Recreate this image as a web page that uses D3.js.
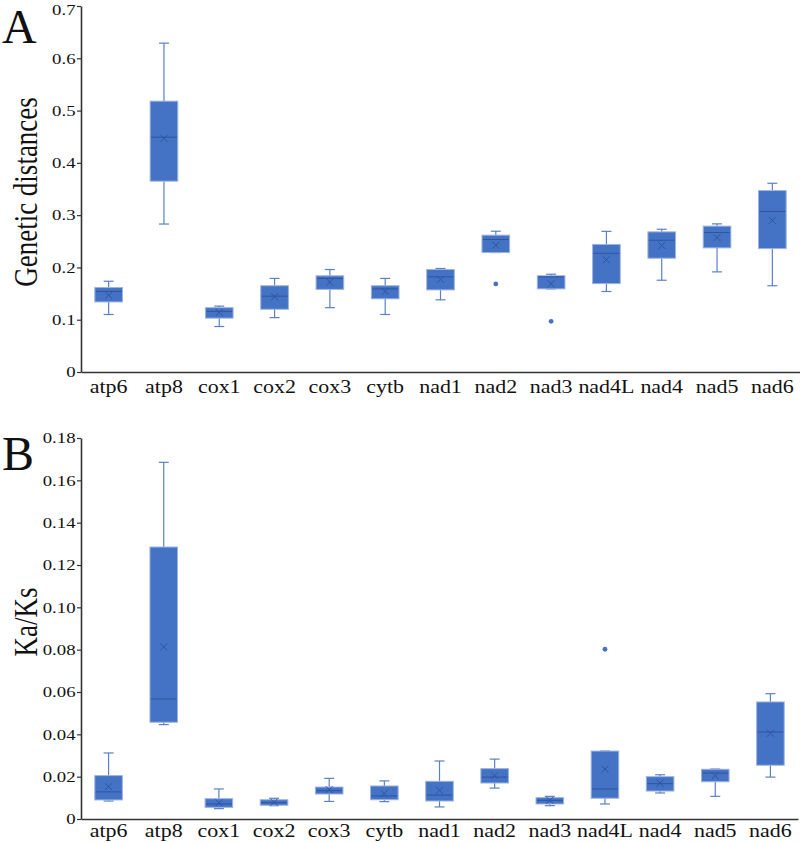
<!DOCTYPE html>
<html>
<head>
<meta charset="utf-8">
<script src="https://cdn.jsdelivr.net/npm/d3@7"></script>
<style>
  body { margin: 0; background: #fff; }
  text { font-family: "Liberation Serif", "Times New Roman", serif; fill: #111; }
</style>
</head>
<body>
<div id="chart"></div>
<script>
// genes on the x axis
var genes = ["atp6","atp8","cox1","cox2","cox3","cytb","nad1","nad2","nad3","nad4L","nad4","nad5","nad6"];

// panel A : genetic distances
var minA  = [0.110,0.283,0.087,0.104,0.123,0.110,0.138,0.2285,0.159,0.154,0.1755,0.1915,0.165];
var q1A   = [0.134,0.365,0.103,0.120,0.158,0.140,0.157,0.2285,0.159,0.169,0.2176,0.2374,0.236];
var medA  = [0.154,0.449,0.116,0.145,0.179,0.159,0.182,0.2534,0.182,0.227,0.252,0.2668,0.307];
var q3A   = [0.1615,0.518,0.123,0.165,0.184,0.165,0.196,0.2617,0.184,0.244,0.268,0.279,0.347];
var maxA  = [0.1736,0.629,0.126,0.179,0.196,0.179,0.198,0.2693,0.187,0.269,0.273,0.2833,0.361];
var meanA = [0.147,0.447,0.114,0.144,0.172,0.154,0.177,0.2425,0.169,0.215,0.242,0.257,0.290];
var outA  = [[],[],[],[],[],[],[],[0.1685],[0.097],[],[],[],[]];

// panel B : Ka/Ks
var minB  = [0.0085,0.0446,0.0049,0.0063,0.0083,0.0082,0.0057,0.0146,0.0063,0.0071,0.0123,0.0107,0.0198];
var q1B   = [0.0090,0.0457,0.0055,0.0065,0.0118,0.0091,0.0085,0.0170,0.0071,0.0098,0.0132,0.0176,0.0254];
var medB  = [0.0128,0.0567,0.0071,0.0077,0.0134,0.0109,0.0113,0.0198,0.0088,0.0142,0.0167,0.0217,0.0411];
var q3B   = [0.0205,0.1285,0.0096,0.0091,0.0151,0.0156,0.0178,0.0238,0.0101,0.0321,0.0200,0.0235,0.0553];
var maxB  = [0.0312,0.1685,0.0142,0.0098,0.0192,0.0180,0.0274,0.0283,0.0107,0.0321,0.0209,0.0236,0.0592];
var meanB = [0.0153,0.0813,0.0076,0.0079,0.0139,0.0120,0.0135,0.0205,0.0088,0.0236,0.0170,0.0205,0.0405];
var outB  = [[],[],[],[],[],[],[],[],[],[0.0802],[],[],[]];

var ticksA = [0,0.1,0.2,0.3,0.4,0.5,0.6,0.7];
var ticksB = [0,0.02,0.04,0.06,0.08,0.10,0.12,0.14,0.16,0.18];

var svg = d3.select("#chart").append("svg")
  .attr("width", 800)
  .attr("height", 843);

var boxFill = "#4472c4", boxStroke = "#9db4e0", whisk = "#5b80c8", inner = "#2f55a0";

function panel(opt) {
  var x = d3.scaleBand().domain(genes).range([81, opt.right]).paddingInner(0.5).paddingOuter(0.25);
  var y = d3.scaleLinear().domain([0, opt.max]).range([opt.bottom, opt.top]);
  var g = svg.append("g");

  var rows = genes.map(function(k, i) {
    return {gene: k, min: opt.min[i], q1: opt.q1[i], med: opt.med[i], q3: opt.q3[i],
            max: opt.max2[i], mean: opt.mean[i], out: opt.out[i]};
  });

  var bw = x.bandwidth(), cap = 10;
  var b = g.selectAll(".box").data(rows).enter().append("g")
    .attr("transform", function(d) { return "translate(" + (x(d.gene) + bw / 2) + ",0)"; });

  // whiskers
  b.append("line").attr("x1", 0).attr("x2", 0)
    .attr("y1", function(d) { return y(d.max); }).attr("y2", function(d) { return y(d.q3); })
    .attr("stroke", whisk).attr("stroke-width", 1.2);
  b.append("line").attr("x1", 0).attr("x2", 0)
    .attr("y1", function(d) { return y(d.q1); }).attr("y2", function(d) { return y(d.min); })
    .attr("stroke", whisk).attr("stroke-width", 1.2);
  b.append("line").attr("x1", -cap / 2).attr("x2", cap / 2)
    .attr("y1", function(d) { return y(d.max); }).attr("y2", function(d) { return y(d.max); })
    .attr("stroke", whisk).attr("stroke-width", 1.2);
  b.append("line").attr("x1", -cap / 2).attr("x2", cap / 2)
    .attr("y1", function(d) { return y(d.min); }).attr("y2", function(d) { return y(d.min); })
    .attr("stroke", whisk).attr("stroke-width", 1.2);

  // box
  b.append("rect")
    .attr("x", -bw / 2).attr("width", bw)
    .attr("y", function(d) { return y(d.q3); })
    .attr("height", function(d) { return Math.max(1, y(d.q1) - y(d.q3)); })
    .attr("fill", boxFill).attr("stroke", boxStroke).attr("stroke-width", 1);

  // median
  b.append("line").attr("x1", -bw / 2 + 1).attr("x2", bw / 2 - 1)
    .attr("y1", function(d) { return y(d.med); }).attr("y2", function(d) { return y(d.med); })
    .attr("stroke", inner).attr("stroke-width", 1);

  // mean marker
  b.append("path")
    .attr("d", function(d) { var m = y(d.mean), s = 3.5;
      return "M" + (-s) + "," + (m - s) + "L" + s + "," + (m + s) + "M" + s + "," + (m - s) + "L" + (-s) + "," + (m + s); })
    .attr("stroke", inner).attr("stroke-width", 1).attr("fill", "none");

  // outliers
  b.selectAll("circle").data(function(d) { return d.out; }).enter().append("circle")
    .attr("cx", 0).attr("cy", function(v) { return y(v); }).attr("r", 2.4)
    .attr("fill", boxFill);

  // axes
  var ya = g.append("g").attr("transform", "translate(81,0)")
    .call(d3.axisLeft(y).tickValues(opt.ticks).tickSize(4).tickSizeOuter(0)
      .tickFormat(function(d) { return d === 0 ? "0" : d3.format(opt.fmt)(d); }));
  ya.select(".domain").attr("stroke", "#333").attr("stroke-width", 1.6);
  ya.selectAll(".tick line").attr("stroke", "#333").attr("stroke-width", 1.2);
  ya.selectAll(".tick text").attr("font-size", 15).attr("x", -5.5 / 1.25)
    .attr("transform", "scale(1.25,1)").attr("font-family", "Liberation Serif").attr("fill", "#111")
    .attr("dy", function(d) { return y(d) < 15 ? "0.55em" : "0.32em"; });

  var xa = g.append("g").attr("transform", "translate(0," + opt.bottom + ")")
    .call(d3.axisBottom(x).tickSize(0).tickSizeOuter(0));
  xa.select(".domain").attr("stroke", "#333").attr("stroke-width", 1.6);
  xa.selectAll(".tick text").attr("font-size", 18).attr("y", 0).attr("dy", opt.labelDy)
    .attr("transform", "scale(1.22,1)").attr("font-family", "Liberation Serif").attr("fill", "#111")
    .attr("x", 0);

  // y label
  g.append("text")
    .attr("transform", "translate(37," + opt.labelY + ") scale(1.22,1) rotate(-90)")
    .attr("text-anchor", "middle").attr("font-size", 27)
    .text(opt.label);

  // panel letter
  g.append("text").attr("x", 2).attr("y", opt.letterY)
    .attr("font-size", 48).text(opt.letter);
}

panel({min: minA, q1: q1A, med: medA, q3: q3A, max2: maxA, mean: meanA, out: outA,
       max: 0.7, top: 6, bottom: 372, right: 800, ticks: ticksA, fmt: ".1f",
       label: "Genetic distances", labelY: 192, letter: "A", letterY: 43, labelDy: 21});

panel({min: minB, q1: q1B, med: medB, q3: q3B, max2: maxB, mean: meanB, out: outB,
       max: 0.18, top: 438, bottom: 819, right: 798, ticks: ticksB, fmt: ".2f",
       label: "Ka/Ks", labelY: 622, letter: "B", letterY: 470, labelDy: 18});
</script>
</body>
</html>
